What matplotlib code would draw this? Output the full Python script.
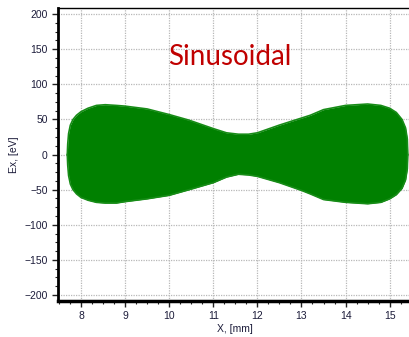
import numpy as np
import matplotlib.pyplot as plt

plt.rcParams['font.family'] = ['Liberation Sans', 'DejaVu Sans']

# envelope of the trajectory cloud
env_x = [7.69, 7.70, 7.72, 7.76, 7.82, 7.90, 8.00, 8.16, 8.35, 8.55, 8.80, 9.00, 9.50, 10.00,
         10.45, 11.00, 11.30, 11.57, 11.80, 12.00, 12.50, 13.00, 13.20, 13.50, 14.00,
         14.50, 14.80, 15.00, 15.15, 15.28, 15.36, 15.40, 15.41]
env_upper = [0, 15, 30, 42, 50, 56, 61, 66, 70, 71, 70, 69, 65, 57,
             49, 37, 31, 29, 29, 31, 42, 52, 56, 64, 70,
             72, 70, 66, 60, 50, 38, 22, 0]
env_lower = [0, -15, -30, -42, -50, -56, -61, -65, -68, -69, -69, -67, -63, -58,
             -50, -40, -32, -28, -29, -31, -40, -51, -56, -64, -68,
             -70, -68, -63, -57, -48, -36, -20, 0]

x_ticks = [8, 9, 10, 11, 12, 13, 14, 15]
y_ticks = [-200, -150, -100, -50, 0, 50, 100, 150, 200]

fig = plt.figure(figsize=(4.10, 3.37), dpi=100)
ax = fig.add_axes([0.1415, 0.1068, 0.8627, 0.869])

ax.fill_between(env_x, env_lower, env_upper, color='#008000', lw=0)
ax.plot(env_x, env_upper, color='#178c17', lw=1.2)
ax.plot(env_x, env_lower, color='#178c17', lw=1.2)

ax.set_xlim(7.48, 15.5)
ax.set_ylim(-208.5, 208.5)
ax.set_xticks(x_ticks)
ax.set_yticks(y_ticks)
ax.set_xticks(np.arange(7.5, 15.6, 0.25), minor=True)
ax.set_yticks(np.arange(-200, 201, 12.5), minor=True)
ax.grid(True, which='major', color='#b8b8b8', linestyle=(0, (1, 1)), lw=0.9)
ax.set_axisbelow(True)

ax.tick_params(which='both', direction='out', colors='#222222', labelcolor='#1c1c3a',
               labelsize=7.5)
ax.tick_params(which='major', length=4, width=1)
ax.tick_params(which='minor', length=2.5, width=0.8)

ax.spines['left'].set_linewidth(2)
ax.spines['bottom'].set_linewidth(2.5)
ax.spines['top'].set_linewidth(1)
ax.spines['right'].set_visible(False)

ax.set_xlabel('X, [mm]', fontsize=7.5, color='#1c1c3a', labelpad=2)
ax.set_ylabel('Ex, [eV]', fontsize=7.5, color='#1c1c3a', labelpad=4)

ax.text(9.97, 127, 'Sinusoidal', color='#c00000', fontsize=20, family='Lato')

fig.savefig('out.png', dpi=100)
